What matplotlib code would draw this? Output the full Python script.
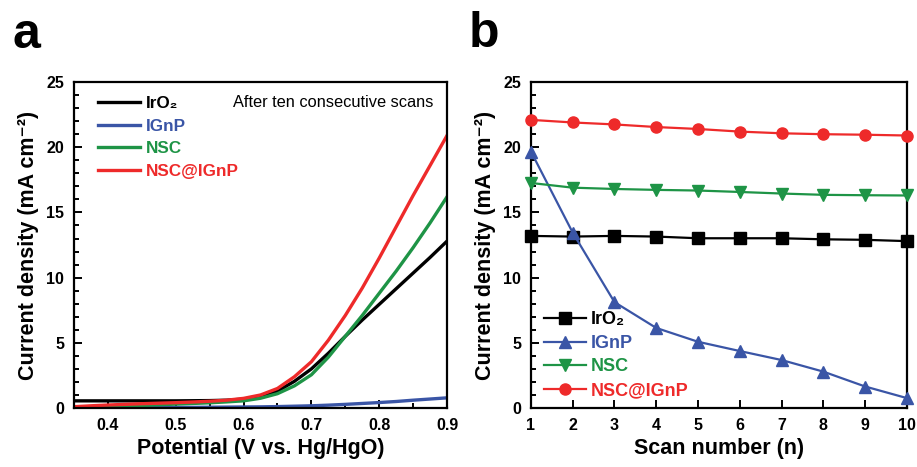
import matplotlib
matplotlib.use('Agg')
import matplotlib.pyplot as plt
from matplotlib.ticker import MultipleLocator

plt.rcParams['font.family'] = ['Liberation Sans', 'DejaVu Sans']
plt.rcParams['font.weight'] = 'bold'

# panel a: LSV after ten scans
potential = [0.35, 0.375, 0.40, 0.425, 0.45, 0.475, 0.50, 0.525, 0.55, 0.575, 0.60, 0.625,
             0.65, 0.675, 0.70, 0.725, 0.75, 0.775, 0.80, 0.825, 0.85, 0.875, 0.90]
j_iro2 = [0.55, 0.55, 0.55, 0.55, 0.55, 0.55, 0.55, 0.56, 0.57, 0.60, 0.68, 0.90,
          1.3, 2.05, 3.0, 4.2, 5.5, 6.75, 7.95, 9.15, 10.35, 11.55, 12.8]
j_ignp = [0.02, 0.02, 0.03, 0.03, 0.04, 0.04, 0.05, 0.05, 0.06, 0.07, 0.08, 0.09,
          0.11, 0.14, 0.17, 0.22, 0.28, 0.35, 0.42, 0.50, 0.60, 0.69, 0.78]
j_nsc = [0.02, 0.05, 0.10, 0.15, 0.20, 0.25, 0.30, 0.35, 0.40, 0.47, 0.55, 0.75,
         1.1, 1.7, 2.55, 3.9, 5.5, 7.1, 8.8, 10.5, 12.3, 14.2, 16.2]
j_nsc_ignp = [0.10, 0.17, 0.23, 0.28, 0.33, 0.37, 0.41, 0.46, 0.52, 0.60, 0.74, 1.0,
              1.5, 2.4, 3.55, 5.2, 7.1, 9.2, 11.5, 13.9, 16.3, 18.6, 20.9]

# panel b: current density vs scan number
scans = [1, 2, 3, 4, 5, 6, 7, 8, 9, 10]
b_iro2 = [13.2, 13.15, 13.2, 13.15, 13.02, 13.02, 13.02, 12.94, 12.9, 12.8]
b_ignp = [19.67, 13.45, 8.12, 6.14, 5.08, 4.37, 3.68, 2.79, 1.65, 0.76]
b_nsc = [17.26, 16.9, 16.8, 16.73, 16.68, 16.57, 16.45, 16.35, 16.32, 16.3]
b_nsc_ignp = [22.1, 21.9, 21.75, 21.55, 21.4, 21.2, 21.07, 21.0, 20.96, 20.9]

names = ['IrO\u2082', 'IGnP', 'NSC', 'NSC@IGnP']
colors = ['#000000', '#3a55a6', '#1e9446', '#ee2a2a']
markers = ['s', '^', 'v', 'o']

fig = plt.figure(figsize=(9.17, 4.67), dpi=100)
ax1 = fig.add_axes([0.0807, 0.1263, 0.4068, 0.698])
ax2 = fig.add_axes([0.579, 0.1263, 0.410, 0.698])


def style_axes(ax):
    for sp in ax.spines.values():
        sp.set_linewidth(1.6)
    ax.tick_params(which='both', direction='in', top=False, right=False,
                   labelsize=11.5, width=1.4)
    ax.tick_params(which='major', length=6, pad=7)
    ax.tick_params(which='minor', length=3.5)
    for lab in ax.get_xticklabels() + ax.get_yticklabels():
        lab.set_fontweight('bold')
    ax.set_ylim(0, 25)
    ax.yaxis.set_major_locator(MultipleLocator(5))
    ax.yaxis.set_minor_locator(MultipleLocator(1))
    ax.set_ylabel('Current density (mA cm\u207b\u00b2)', fontsize=15.5,
                  fontweight='bold', labelpad=5)


# --- a ---
for y, c, n in zip([j_iro2, j_ignp, j_nsc, j_nsc_ignp], colors, names):
    ax1.plot(potential, y, color=c, lw=2.4, label=n, solid_joinstyle='round')
ax1.set_xlim(0.35, 0.9)
ax1.xaxis.set_major_locator(MultipleLocator(0.1))
ax1.xaxis.set_minor_locator(MultipleLocator(0.05))
style_axes(ax1)
ax1.set_xticks([0.4, 0.5, 0.6, 0.7, 0.8, 0.9])
ax1.set_xlabel('Potential (V vs. Hg/HgO)', fontsize=15.5, fontweight='bold', labelpad=4)
leg1 = ax1.legend(loc='upper left', frameon=False, fontsize=12.3, handlelength=2.5,
                  handletextpad=0.3, labelspacing=0.45, borderaxespad=0.0,
                  bbox_to_anchor=(0.045, 0.978))
for t, c in zip(leg1.get_texts(), colors):
    t.set_color(c)
    t.set_fontweight('bold')
ax1.text(0.963, 0.937, 'After ten consecutive scans', transform=ax1.transAxes,
         ha='right', va='center', fontsize=11.8, fontweight='normal')

# --- b ---
for y, c, mk, n in zip([b_iro2, b_ignp, b_nsc, b_nsc_ignp], colors, markers, names):
    ax2.plot(scans, y, color=c, lw=1.6, marker=mk, ms=8, label=n, clip_on=False,
             zorder=3)
ax2.set_xlim(1, 10)
ax2.xaxis.set_major_locator(MultipleLocator(1))
style_axes(ax2)
ax2.set_xlabel('Scan number (n)', fontsize=15.5, fontweight='bold', labelpad=4)
leg2 = ax2.legend(loc='lower left', frameon=False, fontsize=13, handlelength=2.3,
                  handletextpad=0.3, labelspacing=0.36, borderaxespad=0.1,
                  bbox_to_anchor=(0.011, 0.0))
for t, c in zip(leg2.get_texts(), colors):
    t.set_color(c)
    t.set_fontweight('bold')

fig.text(12 / 917, 1 - 48 / 467, 'a', fontsize=36, fontweight='bold', va='baseline')
fig.text(469 / 917, 1 - 47 / 467, 'b', fontsize=36, fontweight='bold', va='baseline')

fig.savefig('out.png', dpi=100)
